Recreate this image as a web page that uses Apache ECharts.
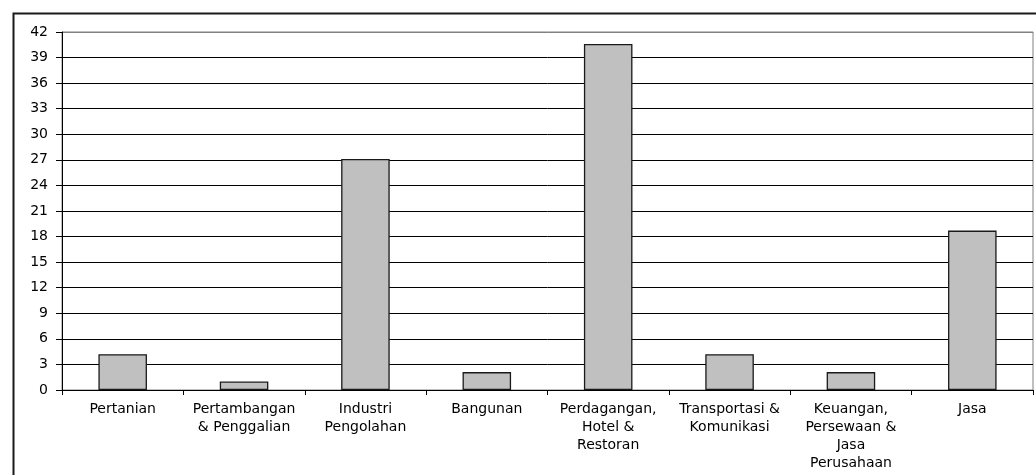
<!DOCTYPE html>
<html>
<head>
<meta charset="utf-8">
<script src="https://cdn.jsdelivr.net/npm/echarts@6/dist/echarts.min.js"></script>
<style>
  html, body { margin: 0; padding: 0; background: #fff; }
  #chart { width: 1036px; height: 475px; }
</style>
</head>
<body>
<div id="chart"></div>
<script>
// Sectors (x axis categories, line breaks as printed under each bar)
const sectors = [
  'Pertanian',
  'Pertambangan\n& Penggalian',
  'Industri\nPengolahan',
  'Bangunan',
  'Perdagangan,\nHotel &\nRestoran',
  'Transportasi &\nKomunikasi',
  'Keuangan,\nPersewaan &\nJasa\nPerusahaan',
  'Jasa'
];

// Share per sector
const shares = [4.2, 1.0, 27.1, 2.1, 40.6, 4.2, 2.1, 18.7];

// Value axis range and step
const yMin = 0;
const yMax = 42;
const yStep = 3;

const labelFont = 'DejaVu Sans, Liberation Sans, Arial, sans-serif';

// Split lines are black except the top one, which reads as the plot frame
const splitCount = (yMax - yMin) / yStep + 1;
const splitColors = [];
for (let i = 0; i < splitCount; i++) {
  splitColors.push(i === splitCount - 1 ? '#808080' : '#000000');
}

const chart = echarts.init(document.getElementById('chart'), null, { renderer: 'canvas' });

chart.setOption({
  backgroundColor: '#ffffff',
  animation: false,
  graphic: [{
    type: 'rect',
    left: 11,
    top: 11,
    shape: { width: 1060, height: 500 },
    style: { fill: 'none', stroke: '#1a1a1a', lineWidth: 2 },
    z: 100,
    silent: true
  }],
  grid: {
    left: 62,
    right: 3,
    top: 32,
    bottom: 85,
    show: true,
    borderColor: '#808080',
    borderWidth: 1,
    backgroundColor: 'transparent'
  },
  xAxis: {
    type: 'category',
    data: sectors,
    axisLine: { show: true, lineStyle: { color: '#000', width: 1 } },
    axisTick: { show: true, alignWithLabel: false, length: 5, lineStyle: { color: '#000' } },
    axisLabel: {
      interval: 0,
      color: '#000',
      fontFamily: labelFont,
      fontSize: 14,
      lineHeight: 18,
      margin: 10,
      align: 'center'
    },
    splitLine: { show: false }
  },
  yAxis: {
    type: 'value',
    min: yMin,
    max: yMax,
    interval: yStep,
    axisLine: { show: true, lineStyle: { color: '#000', width: 1 } },
    axisTick: { show: true, length: 6, lineStyle: { color: '#000' } },
    axisLabel: {
      color: '#000',
      fontFamily: labelFont,
      fontSize: 14,
      margin: 14
    },
    splitLine: { show: true, lineStyle: { color: splitColors, width: 1 } }
  },
  series: [{
    type: 'bar',
    data: shares,
    barCategoryGap: '60%',
    itemStyle: {
      color: '#C0C0C0',
      borderColor: '#1a1a1a',
      borderWidth: 1.3
    }
  }]
});
</script>
</body>
</html>
